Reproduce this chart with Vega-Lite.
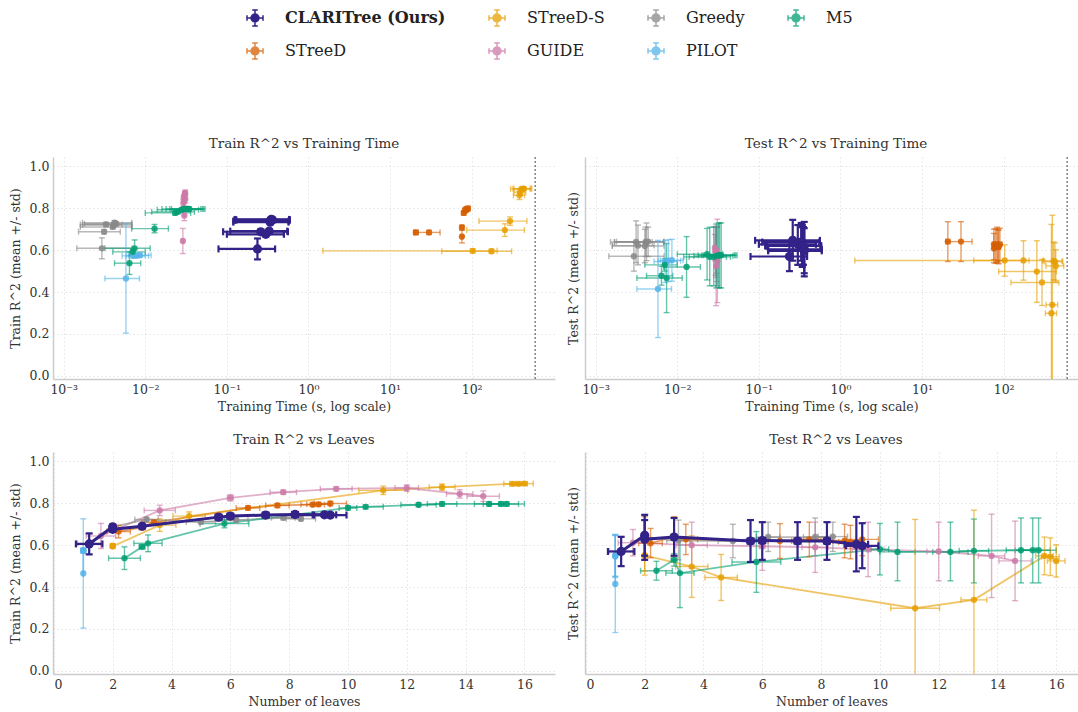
{
"$schema":"https://vega.github.io/schema/vega-lite/v6.json",
"padding":{"left":9,"top":9,"right":0,"bottom":3},
"datasets":{"d":[
{"method":"STreeD","time":20.7,"tlo":19.5,"thi":22,"leaves":2.0,"llo":1.95,"lhi":2.05,"train":0.685,"trlo":0.675,"trhi":0.695,"test":0.641,"telo":0.546,"tehi":0.736},
{"method":"STreeD","time":30,"tlo":20,"thi":41,"leaves":3.0,"llo":2.9,"lhi":3.1,"train":0.685,"trlo":0.675,"trhi":0.695,"test":0.641,"telo":0.546,"tehi":0.736},
{"method":"STreeD","time":76,"tlo":73,"thi":79,"leaves":2.2,"llo":1.8,"lhi":2.6,"train":0.665,"trlo":0.635,"trhi":0.695,"test":0.609,"telo":0.54,"tehi":0.68},
{"method":"STreeD","time":76,"tlo":73,"thi":79,"leaves":3.4,"llo":3.0,"lhi":3.8,"train":0.709,"trlo":0.699,"trhi":0.719,"test":0.628,"telo":0.555,"tehi":0.70},
{"method":"STreeD","time":80,"tlo":76,"thi":84,"leaves":6.6,"llo":6.2,"lhi":7.0,"train":0.778,"trlo":0.768,"trhi":0.788,"test":0.62,"telo":0.537,"tehi":0.703},
{"method":"STreeD","time":83,"tlo":79,"thi":87,"leaves":7.6,"llo":7.2,"lhi":8.0,"train":0.79,"trlo":0.78,"trhi":0.80,"test":0.628,"telo":0.545,"tehi":0.71},
{"method":"STreeD","time":85,"tlo":81,"thi":89,"leaves":8.8,"llo":8.4,"lhi":9.2,"train":0.794,"trlo":0.784,"trhi":0.804,"test":0.62,"telo":0.54,"tehi":0.70},
{"method":"STreeD","time":87,"tlo":83,"thi":91,"leaves":9.0,"llo":8.6,"lhi":9.4,"train":0.795,"trlo":0.785,"trhi":0.805,"test":0.615,"telo":0.535,"tehi":0.695},
{"method":"STreeD","time":90,"tlo":85,"thi":95,"leaves":9.4,"llo":8.85,"lhi":9.95,"train":0.799,"trlo":0.789,"trhi":0.809,"test":0.628,"telo":0.55,"tehi":0.705},
{"method":"STreeD-S","time":103,"tlo":1.5,"thi":205,"leaves":2.0,"llo":1.97,"lhi":2.03,"train":0.597,"trlo":0.587,"trhi":0.607,"test":0.551,"telo":0.476,"tehi":0.626},
{"method":"STreeD-S","time":175,"tlo":43,"thi":309,"leaves":2.0,"llo":1.97,"lhi":2.03,"train":0.595,"trlo":0.585,"trhi":0.605,"test":0.551,"telo":0.457,"tehi":0.645},
{"method":"STreeD-S","time":255,"tlo":87,"thi":443,"leaves":3.6,"llo":3.05,"lhi":4.15,"train":0.696,"trlo":0.666,"trhi":0.726,"test":0.498,"telo":0.351,"tehi":0.645},
{"method":"STreeD-S","time":295,"tlo":123,"thi":475,"leaves":4.6,"llo":4.05,"lhi":5.15,"train":0.739,"trlo":0.719,"trhi":0.759,"test":0.446,"telo":0.336,"tehi":0.556},
{"method":"STreeD-S","time":385,"tlo":325,"thi":445,"leaves":11.2,"llo":10.37,"lhi":12.03,"train":0.862,"trlo":0.842,"trhi":0.882,"test":0.299,"telo":-0.125,"tehi":0.723},
{"method":"STreeD-S","time":395,"tlo":330,"thi":460,"leaves":13.2,"llo":12.76,"lhi":13.64,"train":0.877,"trlo":0.862,"trhi":0.892,"test":0.339,"telo":-0.09,"tehi":0.767},
{"method":"STreeD-S","time":410,"tlo":300,"thi":520,"leaves":15.6,"llo":15.3,"lhi":15.9,"train":0.893,"trlo":0.885,"trhi":0.901,"test":0.549,"telo":0.459,"tehi":0.639},
{"method":"STreeD-S","time":425,"tlo":320,"thi":530,"leaves":15.8,"llo":15.5,"lhi":16.1,"train":0.893,"trlo":0.885,"trhi":0.901,"test":0.545,"telo":0.455,"tehi":0.635},
{"method":"STreeD-S","time":435,"tlo":330,"thi":545,"leaves":16.0,"llo":15.7,"lhi":16.3,"train":0.894,"trlo":0.886,"trhi":0.902,"test":0.525,"telo":0.448,"tehi":0.602},
{"method":"GUIDE","time":0.0289,"tlo":0.028,"thi":0.0298,"leaves":1.6,"llo":1.1,"lhi":2.1,"train":0.644,"trlo":0.584,"trhi":0.704,"test":0.612,"telo":0.549,"tehi":0.675},
{"method":"GUIDE","time":0.0301,"tlo":0.0291,"thi":0.0311,"leaves":3.6,"llo":3.07,"lhi":4.13,"train":0.766,"trlo":0.741,"trhi":0.791,"test":0.60,"telo":0.49,"tehi":0.71},
{"method":"GUIDE","time":0.0293,"tlo":0.0283,"thi":0.0303,"leaves":6.0,"llo":5.9,"lhi":6.1,"train":0.826,"trlo":0.811,"trhi":0.841,"test":0.595,"telo":0.48,"tehi":0.71},
{"method":"GUIDE","time":0.0297,"tlo":0.0287,"thi":0.0307,"leaves":7.8,"llo":7.35,"lhi":8.25,"train":0.853,"trlo":0.843,"trhi":0.863,"test":0.59,"telo":0.47,"tehi":0.71},
{"method":"GUIDE","time":0.0305,"tlo":0.0295,"thi":0.0315,"leaves":9.6,"llo":9.06,"lhi":10.14,"train":0.869,"trlo":0.859,"trhi":0.879,"test":0.58,"telo":0.45,"tehi":0.71},
{"method":"GUIDE","time":0.0308,"tlo":0.0298,"thi":0.0318,"leaves":12.0,"llo":11.6,"lhi":12.4,"train":0.873,"trlo":0.858,"trhi":0.888,"test":0.57,"telo":0.43,"tehi":0.71},
{"method":"GUIDE","time":0.031,"tlo":0.030,"thi":0.032,"leaves":13.8,"llo":13.35,"lhi":14.25,"train":0.845,"trlo":0.825,"trhi":0.865,"test":0.549,"telo":0.35,"tehi":0.748},
{"method":"GUIDE","time":0.030,"tlo":0.029,"thi":0.031,"leaves":14.6,"llo":14.05,"lhi":15.15,"train":0.834,"trlo":0.809,"trhi":0.859,"test":0.525,"telo":0.335,"tehi":0.715},
{"method":"Greedy","time":0.00294,"tlo":0.00145,"thi":0.0069,"leaves":1.2,"llo":0.8,"lhi":1.6,"train":0.609,"trlo":0.559,"trhi":0.659,"test":0.571,"telo":0.50,"tehi":0.64},
{"method":"Greedy","time":0.00313,"tlo":0.00152,"thi":0.00494,"leaves":2.0,"llo":1.95,"lhi":2.05,"train":0.688,"trlo":0.678,"trhi":0.698,"test":0.639,"telo":0.54,"tehi":0.74},
{"method":"Greedy","time":0.0033,"tlo":0.0016,"thi":0.0052,"leaves":3.15,"llo":2.75,"lhi":3.55,"train":0.723,"trlo":0.713,"trhi":0.733,"test":0.622,"telo":0.53,"tehi":0.72},
{"method":"Greedy","time":0.0040,"tlo":0.0016,"thi":0.0069,"leaves":5.0,"llo":4.5,"lhi":5.5,"train":0.711,"trlo":0.701,"trhi":0.721,"test":0.62,"telo":0.54,"tehi":0.70},
{"method":"Greedy","time":0.0041,"tlo":0.0017,"thi":0.0068,"leaves":6.2,"llo":5.8,"lhi":6.6,"train":0.72,"trlo":0.71,"trhi":0.73,"test":0.639,"telo":0.57,"tehi":0.71},
{"method":"Greedy","time":0.0042,"tlo":0.0017,"thi":0.0068,"leaves":7.8,"llo":7.4,"lhi":8.2,"train":0.731,"trlo":0.721,"trhi":0.741,"test":0.639,"telo":0.55,"tehi":0.73},
{"method":"Greedy","time":0.0044,"tlo":0.0018,"thi":0.0069,"leaves":8.4,"llo":7.9,"lhi":8.9,"train":0.726,"trlo":0.716,"trhi":0.736,"test":0.641,"telo":0.57,"tehi":0.71},
{"method":"PILOT","time":0.0058,"tlo":0.0032,"thi":0.0085,"leaves":1.0,"llo":1.0,"lhi":1.0,"train":0.465,"trlo":0.204,"trhi":0.726,"test":0.415,"telo":0.183,"tehi":0.647},
{"method":"PILOT","time":0.0071,"tlo":0.0052,"thi":0.0100,"leaves":1.0,"llo":1.0,"lhi":1.0,"train":0.573,"trlo":0.563,"trhi":0.583,"test":0.546,"telo":0.446,"tehi":0.646},
{"method":"PILOT","time":0.0078,"tlo":0.0058,"thi":0.011,"leaves":1.0,"llo":1.0,"lhi":1.0,"train":0.574,"trlo":0.564,"trhi":0.584,"test":0.55,"telo":0.45,"tehi":0.65},
{"method":"PILOT","time":0.0086,"tlo":0.0062,"thi":0.0118,"leaves":1.0,"llo":1.0,"lhi":1.0,"train":0.576,"trlo":0.566,"trhi":0.586,"test":0.552,"telo":0.452,"tehi":0.652},
{"method":"M5","time":0.0064,"tlo":0.0042,"thi":0.0088,"leaves":2.4,"llo":1.86,"lhi":2.94,"train":0.538,"trlo":0.484,"trhi":0.592,"test":0.478,"telo":0.433,"tehi":0.523},
{"method":"M5","time":0.0070,"tlo":0.0040,"thi":0.0100,"leaves":3.0,"llo":2.9,"lhi":3.1,"train":0.592,"trlo":0.582,"trhi":0.602,"test":0.53,"telo":0.50,"tehi":0.56},
{"method":"M5","time":0.0074,"tlo":0.0032,"thi":0.0115,"leaves":3.2,"llo":2.72,"lhi":3.68,"train":0.609,"trlo":0.569,"trhi":0.649,"test":0.467,"telo":0.302,"tehi":0.632},
{"method":"M5","time":0.013,"tlo":0.0068,"thi":0.0192,"leaves":5.8,"llo":4.97,"lhi":6.63,"train":0.703,"trlo":0.683,"trhi":0.723,"test":0.52,"telo":0.375,"tehi":0.665},
{"method":"M5","time":0.0232,"tlo":0.010,"thi":0.036,"leaves":10.0,"llo":9.7,"lhi":10.3,"train":0.778,"trlo":0.768,"trhi":0.788,"test":0.581,"telo":0.458,"tehi":0.704},
{"method":"M5","time":0.025,"tlo":0.012,"thi":0.040,"leaves":10.6,"llo":10.0,"lhi":11.2,"train":0.783,"trlo":0.773,"trhi":0.793,"test":0.568,"telo":0.43,"tehi":0.71},
{"method":"M5","time":0.028,"tlo":0.014,"thi":0.045,"leaves":12.4,"llo":11.8,"lhi":13.0,"train":0.793,"trlo":0.783,"trhi":0.803,"test":0.568,"telo":0.43,"tehi":0.71},
{"method":"M5","time":0.030,"tlo":0.016,"thi":0.048,"leaves":13.2,"llo":12.7,"lhi":13.7,"train":0.797,"trlo":0.787,"trhi":0.807,"test":0.573,"telo":0.42,"tehi":0.725},
{"method":"M5","time":0.032,"tlo":0.018,"thi":0.050,"leaves":14.8,"llo":14.3,"lhi":15.3,"train":0.797,"trlo":0.787,"trhi":0.807,"test":0.576,"telo":0.42,"tehi":0.73},
{"method":"M5","time":0.033,"tlo":0.020,"thi":0.052,"leaves":15.2,"llo":14.6,"lhi":15.8,"train":0.797,"trlo":0.787,"trhi":0.807,"test":0.576,"telo":0.42,"tehi":0.73},
{"method":"M5","time":0.0345,"tlo":0.021,"thi":0.054,"leaves":15.4,"llo":14.8,"lhi":16.0,"train":0.797,"trlo":0.787,"trhi":0.807,"test":0.576,"telo":0.42,"tehi":0.73},
{"method":"CLARITree (Ours)","time":0.237,"tlo":0.079,"thi":0.39,"leaves":1.2,"llo":0.75,"lhi":1.65,"train":0.606,"trlo":0.556,"trhi":0.656,"test":0.57,"telo":0.50,"tehi":0.64},
{"method":"CLARITree (Ours)","time":0.26,"tlo":0.09,"thi":0.56,"leaves":2.0,"llo":1.95,"lhi":2.05,"train":0.688,"trlo":0.678,"trhi":0.698,"test":0.647,"telo":0.55,"tehi":0.745},
{"method":"CLARITree (Ours)","time":0.30,"tlo":0.10,"thi":0.50,"leaves":2.0,"llo":1.95,"lhi":2.05,"train":0.676,"trlo":0.666,"trhi":0.686,"test":0.628,"telo":0.53,"tehi":0.72},
{"method":"CLARITree (Ours)","time":0.33,"tlo":0.11,"thi":0.55,"leaves":3.0,"llo":2.95,"lhi":3.05,"train":0.691,"trlo":0.681,"trhi":0.701,"test":0.639,"telo":0.55,"tehi":0.73},
{"method":"CLARITree (Ours)","time":0.34,"tlo":0.12,"thi":0.57,"leaves":5.6,"llo":5.5,"lhi":5.7,"train":0.734,"trlo":0.726,"trhi":0.742,"test":0.62,"telo":0.52,"tehi":0.72},
{"method":"CLARITree (Ours)","time":0.34,"tlo":0.12,"thi":0.57,"leaves":6.0,"llo":5.9,"lhi":6.1,"train":0.739,"trlo":0.731,"trhi":0.747,"test":0.622,"telo":0.53,"tehi":0.71},
{"method":"CLARITree (Ours)","time":0.35,"tlo":0.125,"thi":0.58,"leaves":7.2,"llo":7.1,"lhi":7.3,"train":0.744,"trlo":0.736,"trhi":0.752,"test":0.62,"telo":0.53,"tehi":0.71},
{"method":"CLARITree (Ours)","time":0.35,"tlo":0.125,"thi":0.58,"leaves":8.2,"llo":8.1,"lhi":8.3,"train":0.747,"trlo":0.739,"trhi":0.755,"test":0.62,"telo":0.53,"tehi":0.71},
{"method":"CLARITree (Ours)","time":0.36,"tlo":0.13,"thi":0.59,"leaves":9.2,"llo":8.8,"lhi":9.6,"train":0.745,"trlo":0.737,"trhi":0.753,"test":0.604,"telo":0.475,"tehi":0.735},
{"method":"CLARITree (Ours)","time":0.36,"tlo":0.13,"thi":0.59,"leaves":9.4,"llo":8.85,"lhi":9.95,"train":0.744,"trlo":0.736,"trhi":0.752,"test":0.597,"telo":0.49,"tehi":0.705}
]},
"data":{"name":"d"},
"columns":2,
"spacing":{"row":73,"column":30},
"bounds":"flush",
"align":"each",
"concat":[
{"width":502,"height":222,
 "title":{"text":"Train R^2 vs Training Time","font":"DejaVu Serif, Liberation Serif, serif","fontSize":13.5,"fontWeight":"normal","color":"#333333","offset":6},
 "layer":[
  {"transform":[{"filter":"datum.method !== 'CLARITree (Ours)'"}],"layer":[
   {"mark":{"type":"errorbar","orient":"horizontal","ticks":true,"size":6,"thickness":1.4,"opacity":0.6,"clip":true},
    "encoding":{"x":{"field":"tlo","type":"quantitative","title":"Training Time (s, log scale)","scale":{"type":"log","domain":[0.00074,1050],"nice":false},"axis":{"values":[0.001,0.01,0.1,1,10,100],"labelExpr":"datum.value < 0.005 ? '10⁻³' : datum.value < 0.05 ? '10⁻²' : datum.value < 0.5 ? '10⁻¹' : datum.value < 5 ? '10⁰' : datum.value < 50 ? '10¹' : '10²'","titlePadding":5,"labelFont":"DejaVu Serif, Liberation Serif, serif","titleFont":"DejaVu Serif, Liberation Serif, serif","labelFontSize":12.5,"titleFontSize":12.5}},"x2":{"field":"thi"},
     "y":{"field":"train","type":"quantitative","title":"Train R^2 (mean +/- std)","scale":{"domain":[-0.015,1.045],"nice":false,"zero":false},"axis":{"values":[0,0.2,0.4,0.6,0.8,1],"format":".1f","titlePadding":7,"labelFont":"DejaVu Serif, Liberation Serif, serif","titleFont":"DejaVu Serif, Liberation Serif, serif","labelFontSize":12.5,"titleFontSize":12.5}},
     "color":{"field":"method","type":"nominal","scale":{"domain":["CLARITree (Ours)","STreeD-S","Greedy","M5","STreeD","GUIDE","PILOT"],"range":["#332288","#E69F00","#888888","#009E73","#D55E00","#CC79A7","#56B4E9"]},
      "legend":{"orient":"none","legendX":193,"legendY":-148,"direction":"horizontal","columns":4,"title":null,"labelFontSize":16,"labelFont":"DejaVu Serif, Liberation Serif, serif","labelColor":"#222222","labelLimit":400,"labelOffset":21,"columnPadding":40,"rowPadding":11,"symbolSize":256,"symbolStrokeWidth":1.5,"symbolOpacity":0.8,"symbolType":"M-1,0L1,0M0,-1L0,1M-1,-0.35L-1,0.35M1,-0.35L1,0.35M-0.35,-1L0.35,-1M-0.35,1L0.35,1M0.5,0A0.5,0.5,0,1,1,-0.5,0A0.5,0.5,0,1,1,0.5,0Z",
       "labelFontWeight":{"expr":"datum.label === 'CLARITree (Ours)' ? 'bold' : 'normal'"},
       "encode":{"labels":{"update":{"fontWeight":{"signal":"datum.label === 'CLARITree (Ours)' ? 'bold' : 'normal'"}}},"symbols":{"update":{"fill":{"scale":"color","field":"value"},"stroke":{"scale":"color","field":"value"},"opacity":{"signal":"datum.value === 'CLARITree (Ours)' ? 1 : 0.75"}}}}}}}},
   {"mark":{"type":"errorbar","orient":"vertical","ticks":true,"size":6,"thickness":1.4,"opacity":0.6,"clip":true},
    "encoding":{"x":{"field":"time","type":"quantitative","title":"Training Time (s, log scale)","scale":{"type":"log","domain":[0.00074,1050],"nice":false}},
     "y":{"field":"trlo","type":"quantitative","title":"Train R^2 (mean +/- std)","scale":{"domain":[-0.015,1.045],"nice":false,"zero":false}},"y2":{"field":"trhi"},
     "color":{"field":"method","type":"nominal","scale":{"domain":["CLARITree (Ours)","STreeD-S","Greedy","M5","STreeD","GUIDE","PILOT"],"range":["#332288","#E69F00","#888888","#009E73","#D55E00","#CC79A7","#56B4E9"]}}}},
   {"mark":{"type":"point","filled":true,"size":40,"opacity":0.85,"clip":true},
    "encoding":{"x":{"field":"time","type":"quantitative","title":"Training Time (s, log scale)","scale":{"type":"log","domain":[0.00074,1050],"nice":false}},
     "y":{"field":"train","type":"quantitative","title":"Train R^2 (mean +/- std)","scale":{"domain":[-0.015,1.045],"nice":false,"zero":false}},
     "color":{"field":"method","type":"nominal","scale":{"domain":["CLARITree (Ours)","STreeD-S","Greedy","M5","STreeD","GUIDE","PILOT"],"range":["#332288","#E69F00","#888888","#009E73","#D55E00","#CC79A7","#56B4E9"]}}}}
  ]},
  {"transform":[{"filter":"datum.method === 'CLARITree (Ours)'"}],"layer":[
   {"mark":{"type":"errorbar","orient":"horizontal","ticks":true,"size":7,"thickness":2.2,"opacity":1,"clip":true},
    "encoding":{"x":{"field":"tlo","type":"quantitative","title":"Training Time (s, log scale)","scale":{"type":"log","domain":[0.00074,1050],"nice":false}},"x2":{"field":"thi"},
     "y":{"field":"train","type":"quantitative","title":"Train R^2 (mean +/- std)","scale":{"domain":[-0.015,1.045],"nice":false,"zero":false}},
     "color":{"field":"method","type":"nominal","scale":{"domain":["CLARITree (Ours)","STreeD-S","Greedy","M5","STreeD","GUIDE","PILOT"],"range":["#332288","#E69F00","#888888","#009E73","#D55E00","#CC79A7","#56B4E9"]}}}},
   {"mark":{"type":"errorbar","orient":"vertical","ticks":true,"size":7,"thickness":2.2,"opacity":1,"clip":true},
    "encoding":{"x":{"field":"time","type":"quantitative","title":"Training Time (s, log scale)","scale":{"type":"log","domain":[0.00074,1050],"nice":false}},
     "y":{"field":"trlo","type":"quantitative","title":"Train R^2 (mean +/- std)","scale":{"domain":[-0.015,1.045],"nice":false,"zero":false}},"y2":{"field":"trhi"},
     "color":{"field":"method","type":"nominal","scale":{"domain":["CLARITree (Ours)","STreeD-S","Greedy","M5","STreeD","GUIDE","PILOT"],"range":["#332288","#E69F00","#888888","#009E73","#D55E00","#CC79A7","#56B4E9"]}}}},
   {"mark":{"type":"point","filled":true,"size":85,"opacity":1,"clip":true},
    "encoding":{"x":{"field":"time","type":"quantitative","title":"Training Time (s, log scale)","scale":{"type":"log","domain":[0.00074,1050],"nice":false}},
     "y":{"field":"train","type":"quantitative","title":"Train R^2 (mean +/- std)","scale":{"domain":[-0.015,1.045],"nice":false,"zero":false}},
     "color":{"field":"method","type":"nominal","scale":{"domain":["CLARITree (Ours)","STreeD-S","Greedy","M5","STreeD","GUIDE","PILOT"],"range":["#332288","#E69F00","#888888","#009E73","#D55E00","#CC79A7","#56B4E9"]}}}}
  ]},
  {"data":{"values":[{"limit":600}]},"mark":{"type":"rule","color":"#666666","strokeDash":[2,2],"strokeWidth":1.2},
   "encoding":{"x":{"field":"limit","type":"quantitative","title":"Training Time (s, log scale)","scale":{"type":"log","domain":[0.00074,1050],"nice":false}}}}
 ]},
{"width":493,"height":222,
 "title":{"text":"Test R^2 vs Training Time","dx":4.5,"font":"DejaVu Serif, Liberation Serif, serif","fontSize":13.5,"fontWeight":"normal","color":"#333333","offset":6},
 "layer":[
  {"transform":[{"filter":"datum.method !== 'CLARITree (Ours)'"}],"layer":[
   {"mark":{"type":"errorbar","orient":"horizontal","ticks":true,"size":6,"thickness":1.4,"opacity":0.6,"clip":true},
    "encoding":{"x":{"field":"tlo","type":"quantitative","title":"Training Time (s, log scale)","scale":{"type":"log","domain":[0.00074,815],"nice":false},"axis":{"values":[0.001,0.01,0.1,1,10,100],"labelExpr":"datum.value < 0.005 ? '10⁻³' : datum.value < 0.05 ? '10⁻²' : datum.value < 0.5 ? '10⁻¹' : datum.value < 5 ? '10⁰' : datum.value < 50 ? '10¹' : '10²'","titlePadding":5,"labelFont":"DejaVu Serif, Liberation Serif, serif","titleFont":"DejaVu Serif, Liberation Serif, serif","labelFontSize":12.5,"titleFontSize":12.5}},"x2":{"field":"thi"},
     "y":{"field":"test","type":"quantitative","title":"Test R^2 (mean +/- std)","scale":{"domain":[-0.015,1.045],"nice":false,"zero":false},"axis":{"values":[0,0.2,0.4,0.6,0.8,1],"labels":false,"titlePadding":5,"titleFont":"DejaVu Serif, Liberation Serif, serif","titleFontSize":12.5}},
     "color":{"field":"method","type":"nominal","scale":{"domain":["CLARITree (Ours)","STreeD-S","Greedy","M5","STreeD","GUIDE","PILOT"],"range":["#332288","#E69F00","#888888","#009E73","#D55E00","#CC79A7","#56B4E9"]}}}},
   {"mark":{"type":"errorbar","orient":"vertical","ticks":true,"size":6,"thickness":1.4,"opacity":0.6,"clip":true},
    "encoding":{"x":{"field":"time","type":"quantitative","title":"Training Time (s, log scale)","scale":{"type":"log","domain":[0.00074,815],"nice":false}},
     "y":{"field":"telo","type":"quantitative","title":"Test R^2 (mean +/- std)","scale":{"domain":[-0.015,1.045],"nice":false,"zero":false}},"y2":{"field":"tehi"},
     "color":{"field":"method","type":"nominal","scale":{"domain":["CLARITree (Ours)","STreeD-S","Greedy","M5","STreeD","GUIDE","PILOT"],"range":["#332288","#E69F00","#888888","#009E73","#D55E00","#CC79A7","#56B4E9"]}}}},
   {"mark":{"type":"point","filled":true,"size":40,"opacity":0.85,"clip":true},
    "encoding":{"x":{"field":"time","type":"quantitative","title":"Training Time (s, log scale)","scale":{"type":"log","domain":[0.00074,815],"nice":false}},
     "y":{"field":"test","type":"quantitative","title":"Test R^2 (mean +/- std)","scale":{"domain":[-0.015,1.045],"nice":false,"zero":false}},
     "color":{"field":"method","type":"nominal","scale":{"domain":["CLARITree (Ours)","STreeD-S","Greedy","M5","STreeD","GUIDE","PILOT"],"range":["#332288","#E69F00","#888888","#009E73","#D55E00","#CC79A7","#56B4E9"]}}}}
  ]},
  {"transform":[{"filter":"datum.method === 'CLARITree (Ours)'"}],"layer":[
   {"mark":{"type":"errorbar","orient":"horizontal","ticks":true,"size":7,"thickness":2.2,"opacity":1,"clip":true},
    "encoding":{"x":{"field":"tlo","type":"quantitative","title":"Training Time (s, log scale)","scale":{"type":"log","domain":[0.00074,815],"nice":false}},"x2":{"field":"thi"},
     "y":{"field":"test","type":"quantitative","title":"Test R^2 (mean +/- std)","scale":{"domain":[-0.015,1.045],"nice":false,"zero":false}},
     "color":{"field":"method","type":"nominal","scale":{"domain":["CLARITree (Ours)","STreeD-S","Greedy","M5","STreeD","GUIDE","PILOT"],"range":["#332288","#E69F00","#888888","#009E73","#D55E00","#CC79A7","#56B4E9"]}}}},
   {"mark":{"type":"errorbar","orient":"vertical","ticks":true,"size":7,"thickness":2.2,"opacity":1,"clip":true},
    "encoding":{"x":{"field":"time","type":"quantitative","title":"Training Time (s, log scale)","scale":{"type":"log","domain":[0.00074,815],"nice":false}},
     "y":{"field":"telo","type":"quantitative","title":"Test R^2 (mean +/- std)","scale":{"domain":[-0.015,1.045],"nice":false,"zero":false}},"y2":{"field":"tehi"},
     "color":{"field":"method","type":"nominal","scale":{"domain":["CLARITree (Ours)","STreeD-S","Greedy","M5","STreeD","GUIDE","PILOT"],"range":["#332288","#E69F00","#888888","#009E73","#D55E00","#CC79A7","#56B4E9"]}}}},
   {"mark":{"type":"point","filled":true,"size":85,"opacity":1,"clip":true},
    "encoding":{"x":{"field":"time","type":"quantitative","title":"Training Time (s, log scale)","scale":{"type":"log","domain":[0.00074,815],"nice":false}},
     "y":{"field":"test","type":"quantitative","title":"Test R^2 (mean +/- std)","scale":{"domain":[-0.015,1.045],"nice":false,"zero":false}},
     "color":{"field":"method","type":"nominal","scale":{"domain":["CLARITree (Ours)","STreeD-S","Greedy","M5","STreeD","GUIDE","PILOT"],"range":["#332288","#E69F00","#888888","#009E73","#D55E00","#CC79A7","#56B4E9"]}}}}
  ]},
  {"data":{"values":[{"limit":600}]},"mark":{"type":"rule","color":"#666666","strokeDash":[2,2],"strokeWidth":1.2},
   "encoding":{"x":{"field":"limit","type":"quantitative","title":"Training Time (s, log scale)","scale":{"type":"log","domain":[0.00074,815],"nice":false}}}}
 ]},
{"width":502,"height":222,
 "title":{"text":"Train R^2 vs Leaves","font":"DejaVu Serif, Liberation Serif, serif","fontSize":13.5,"fontWeight":"normal","color":"#333333","offset":6},
 "layer":[
  {"transform":[{"filter":"datum.method !== 'CLARITree (Ours)'"}],"layer":[
   {"mark":{"type":"line","strokeWidth":1.8,"opacity":0.6,"clip":true},
    "encoding":{"x":{"field":"leaves","type":"quantitative","title":"Number of leaves","scale":{"domain":[-0.03,17.04],"nice":false,"zero":false},"axis":{"values":[0,2,4,6,8,10,12,14,16],"format":"d","titlePadding":5,"labelFont":"DejaVu Serif, Liberation Serif, serif","titleFont":"DejaVu Serif, Liberation Serif, serif","labelFontSize":12.5,"titleFontSize":12.5}},
     "y":{"field":"train","type":"quantitative","title":"Train R^2 (mean +/- std)","scale":{"domain":[-0.015,1.045],"nice":false,"zero":false},"axis":{"values":[0,0.2,0.4,0.6,0.8,1],"format":".1f","titlePadding":7,"labelFont":"DejaVu Serif, Liberation Serif, serif","titleFont":"DejaVu Serif, Liberation Serif, serif","labelFontSize":12.5,"titleFontSize":12.5}},
     "color":{"field":"method","type":"nominal","scale":{"domain":["CLARITree (Ours)","STreeD-S","Greedy","M5","STreeD","GUIDE","PILOT"],"range":["#332288","#E69F00","#888888","#009E73","#D55E00","#CC79A7","#56B4E9"]}}}},
   {"mark":{"type":"errorbar","orient":"horizontal","ticks":true,"size":6,"thickness":1.4,"opacity":0.6,"clip":true},
    "encoding":{"x":{"field":"llo","type":"quantitative","title":"Number of leaves","scale":{"domain":[-0.03,17.04],"nice":false,"zero":false}},"x2":{"field":"lhi"},
     "y":{"field":"train","type":"quantitative","title":"Train R^2 (mean +/- std)","scale":{"domain":[-0.015,1.045],"nice":false,"zero":false}},
     "color":{"field":"method","type":"nominal","scale":{"domain":["CLARITree (Ours)","STreeD-S","Greedy","M5","STreeD","GUIDE","PILOT"],"range":["#332288","#E69F00","#888888","#009E73","#D55E00","#CC79A7","#56B4E9"]}}}},
   {"mark":{"type":"errorbar","orient":"vertical","ticks":true,"size":6,"thickness":1.4,"opacity":0.6,"clip":true},
    "encoding":{"x":{"field":"leaves","type":"quantitative","title":"Number of leaves","scale":{"domain":[-0.03,17.04],"nice":false,"zero":false}},
     "y":{"field":"trlo","type":"quantitative","title":"Train R^2 (mean +/- std)","scale":{"domain":[-0.015,1.045],"nice":false,"zero":false}},"y2":{"field":"trhi"},
     "color":{"field":"method","type":"nominal","scale":{"domain":["CLARITree (Ours)","STreeD-S","Greedy","M5","STreeD","GUIDE","PILOT"],"range":["#332288","#E69F00","#888888","#009E73","#D55E00","#CC79A7","#56B4E9"]}}}},
   {"mark":{"type":"point","filled":true,"size":40,"opacity":0.85,"clip":true},
    "encoding":{"x":{"field":"leaves","type":"quantitative","title":"Number of leaves","scale":{"domain":[-0.03,17.04],"nice":false,"zero":false}},
     "y":{"field":"train","type":"quantitative","title":"Train R^2 (mean +/- std)","scale":{"domain":[-0.015,1.045],"nice":false,"zero":false}},
     "color":{"field":"method","type":"nominal","scale":{"domain":["CLARITree (Ours)","STreeD-S","Greedy","M5","STreeD","GUIDE","PILOT"],"range":["#332288","#E69F00","#888888","#009E73","#D55E00","#CC79A7","#56B4E9"]}}}}
  ]},
  {"transform":[{"filter":"datum.method === 'CLARITree (Ours)'"}],"layer":[
   {"mark":{"type":"line","strokeWidth":3,"opacity":1,"clip":true},
    "encoding":{"x":{"field":"leaves","type":"quantitative","title":"Number of leaves","scale":{"domain":[-0.03,17.04],"nice":false,"zero":false}},
     "y":{"field":"train","type":"quantitative","title":"Train R^2 (mean +/- std)","scale":{"domain":[-0.015,1.045],"nice":false,"zero":false}},
     "color":{"field":"method","type":"nominal","scale":{"domain":["CLARITree (Ours)","STreeD-S","Greedy","M5","STreeD","GUIDE","PILOT"],"range":["#332288","#E69F00","#888888","#009E73","#D55E00","#CC79A7","#56B4E9"]}}}},
   {"mark":{"type":"errorbar","orient":"horizontal","ticks":true,"size":7,"thickness":2.2,"opacity":1,"clip":true},
    "encoding":{"x":{"field":"llo","type":"quantitative","title":"Number of leaves","scale":{"domain":[-0.03,17.04],"nice":false,"zero":false}},"x2":{"field":"lhi"},
     "y":{"field":"train","type":"quantitative","title":"Train R^2 (mean +/- std)","scale":{"domain":[-0.015,1.045],"nice":false,"zero":false}},
     "color":{"field":"method","type":"nominal","scale":{"domain":["CLARITree (Ours)","STreeD-S","Greedy","M5","STreeD","GUIDE","PILOT"],"range":["#332288","#E69F00","#888888","#009E73","#D55E00","#CC79A7","#56B4E9"]}}}},
   {"mark":{"type":"errorbar","orient":"vertical","ticks":true,"size":7,"thickness":2.2,"opacity":1,"clip":true},
    "encoding":{"x":{"field":"leaves","type":"quantitative","title":"Number of leaves","scale":{"domain":[-0.03,17.04],"nice":false,"zero":false}},
     "y":{"field":"trlo","type":"quantitative","title":"Train R^2 (mean +/- std)","scale":{"domain":[-0.015,1.045],"nice":false,"zero":false}},"y2":{"field":"trhi"},
     "color":{"field":"method","type":"nominal","scale":{"domain":["CLARITree (Ours)","STreeD-S","Greedy","M5","STreeD","GUIDE","PILOT"],"range":["#332288","#E69F00","#888888","#009E73","#D55E00","#CC79A7","#56B4E9"]}}}},
   {"mark":{"type":"point","filled":true,"size":85,"opacity":1,"clip":true},
    "encoding":{"x":{"field":"leaves","type":"quantitative","title":"Number of leaves","scale":{"domain":[-0.03,17.04],"nice":false,"zero":false}},
     "y":{"field":"train","type":"quantitative","title":"Train R^2 (mean +/- std)","scale":{"domain":[-0.015,1.045],"nice":false,"zero":false}},
     "color":{"field":"method","type":"nominal","scale":{"domain":["CLARITree (Ours)","STreeD-S","Greedy","M5","STreeD","GUIDE","PILOT"],"range":["#332288","#E69F00","#888888","#009E73","#D55E00","#CC79A7","#56B4E9"]}}}}
  ]}
 ]},
{"width":493,"height":222,
 "title":{"text":"Test R^2 vs Leaves","dx":4.5,"font":"DejaVu Serif, Liberation Serif, serif","fontSize":13.5,"fontWeight":"normal","color":"#333333","offset":6},
 "layer":[
  {"transform":[{"filter":"datum.method !== 'CLARITree (Ours)'"}],"layer":[
   {"mark":{"type":"line","strokeWidth":1.8,"opacity":0.6,"clip":true},
    "encoding":{"x":{"field":"leaves","type":"quantitative","title":"Number of leaves","scale":{"domain":[-0.03,16.74],"nice":false,"zero":false},"axis":{"values":[0,2,4,6,8,10,12,14,16],"format":"d","titlePadding":5,"labelFont":"DejaVu Serif, Liberation Serif, serif","titleFont":"DejaVu Serif, Liberation Serif, serif","labelFontSize":12.5,"titleFontSize":12.5}},
     "y":{"field":"test","type":"quantitative","title":"Test R^2 (mean +/- std)","scale":{"domain":[-0.015,1.045],"nice":false,"zero":false},"axis":{"values":[0,0.2,0.4,0.6,0.8,1],"labels":false,"titlePadding":5,"titleFont":"DejaVu Serif, Liberation Serif, serif","titleFontSize":12.5}},
     "color":{"field":"method","type":"nominal","scale":{"domain":["CLARITree (Ours)","STreeD-S","Greedy","M5","STreeD","GUIDE","PILOT"],"range":["#332288","#E69F00","#888888","#009E73","#D55E00","#CC79A7","#56B4E9"]}}}},
   {"mark":{"type":"errorbar","orient":"horizontal","ticks":true,"size":6,"thickness":1.4,"opacity":0.6,"clip":true},
    "encoding":{"x":{"field":"llo","type":"quantitative","title":"Number of leaves","scale":{"domain":[-0.03,16.74],"nice":false,"zero":false}},"x2":{"field":"lhi"},
     "y":{"field":"test","type":"quantitative","title":"Test R^2 (mean +/- std)","scale":{"domain":[-0.015,1.045],"nice":false,"zero":false}},
     "color":{"field":"method","type":"nominal","scale":{"domain":["CLARITree (Ours)","STreeD-S","Greedy","M5","STreeD","GUIDE","PILOT"],"range":["#332288","#E69F00","#888888","#009E73","#D55E00","#CC79A7","#56B4E9"]}}}},
   {"mark":{"type":"errorbar","orient":"vertical","ticks":true,"size":6,"thickness":1.4,"opacity":0.6,"clip":true},
    "encoding":{"x":{"field":"leaves","type":"quantitative","title":"Number of leaves","scale":{"domain":[-0.03,16.74],"nice":false,"zero":false}},
     "y":{"field":"telo","type":"quantitative","title":"Test R^2 (mean +/- std)","scale":{"domain":[-0.015,1.045],"nice":false,"zero":false}},"y2":{"field":"tehi"},
     "color":{"field":"method","type":"nominal","scale":{"domain":["CLARITree (Ours)","STreeD-S","Greedy","M5","STreeD","GUIDE","PILOT"],"range":["#332288","#E69F00","#888888","#009E73","#D55E00","#CC79A7","#56B4E9"]}}}},
   {"mark":{"type":"point","filled":true,"size":40,"opacity":0.85,"clip":true},
    "encoding":{"x":{"field":"leaves","type":"quantitative","title":"Number of leaves","scale":{"domain":[-0.03,16.74],"nice":false,"zero":false}},
     "y":{"field":"test","type":"quantitative","title":"Test R^2 (mean +/- std)","scale":{"domain":[-0.015,1.045],"nice":false,"zero":false}},
     "color":{"field":"method","type":"nominal","scale":{"domain":["CLARITree (Ours)","STreeD-S","Greedy","M5","STreeD","GUIDE","PILOT"],"range":["#332288","#E69F00","#888888","#009E73","#D55E00","#CC79A7","#56B4E9"]}}}}
  ]},
  {"transform":[{"filter":"datum.method === 'CLARITree (Ours)'"}],"layer":[
   {"mark":{"type":"line","strokeWidth":3,"opacity":1,"clip":true},
    "encoding":{"x":{"field":"leaves","type":"quantitative","title":"Number of leaves","scale":{"domain":[-0.03,16.74],"nice":false,"zero":false}},
     "y":{"field":"test","type":"quantitative","title":"Test R^2 (mean +/- std)","scale":{"domain":[-0.015,1.045],"nice":false,"zero":false}},
     "color":{"field":"method","type":"nominal","scale":{"domain":["CLARITree (Ours)","STreeD-S","Greedy","M5","STreeD","GUIDE","PILOT"],"range":["#332288","#E69F00","#888888","#009E73","#D55E00","#CC79A7","#56B4E9"]}}}},
   {"mark":{"type":"errorbar","orient":"horizontal","ticks":true,"size":7,"thickness":2.2,"opacity":1,"clip":true},
    "encoding":{"x":{"field":"llo","type":"quantitative","title":"Number of leaves","scale":{"domain":[-0.03,16.74],"nice":false,"zero":false}},"x2":{"field":"lhi"},
     "y":{"field":"test","type":"quantitative","title":"Test R^2 (mean +/- std)","scale":{"domain":[-0.015,1.045],"nice":false,"zero":false}},
     "color":{"field":"method","type":"nominal","scale":{"domain":["CLARITree (Ours)","STreeD-S","Greedy","M5","STreeD","GUIDE","PILOT"],"range":["#332288","#E69F00","#888888","#009E73","#D55E00","#CC79A7","#56B4E9"]}}}},
   {"mark":{"type":"errorbar","orient":"vertical","ticks":true,"size":7,"thickness":2.2,"opacity":1,"clip":true},
    "encoding":{"x":{"field":"leaves","type":"quantitative","title":"Number of leaves","scale":{"domain":[-0.03,16.74],"nice":false,"zero":false}},
     "y":{"field":"telo","type":"quantitative","title":"Test R^2 (mean +/- std)","scale":{"domain":[-0.015,1.045],"nice":false,"zero":false}},"y2":{"field":"tehi"},
     "color":{"field":"method","type":"nominal","scale":{"domain":["CLARITree (Ours)","STreeD-S","Greedy","M5","STreeD","GUIDE","PILOT"],"range":["#332288","#E69F00","#888888","#009E73","#D55E00","#CC79A7","#56B4E9"]}}}},
   {"mark":{"type":"point","filled":true,"size":85,"opacity":1,"clip":true},
    "encoding":{"x":{"field":"leaves","type":"quantitative","title":"Number of leaves","scale":{"domain":[-0.03,16.74],"nice":false,"zero":false}},
     "y":{"field":"test","type":"quantitative","title":"Test R^2 (mean +/- std)","scale":{"domain":[-0.015,1.045],"nice":false,"zero":false}},
     "color":{"field":"method","type":"nominal","scale":{"domain":["CLARITree (Ours)","STreeD-S","Greedy","M5","STreeD","GUIDE","PILOT"],"range":["#332288","#E69F00","#888888","#009E73","#D55E00","#CC79A7","#56B4E9"]}}}}
  ]}
 ]}
],
"resolve":{"scale":{"x":"independent","y":"independent"}},
"config":{
 "font":"DejaVu Serif, Liberation Serif, serif",
 "view":{"stroke":null},
 "axis":{"labelFont":"DejaVu Serif, Liberation Serif, serif","titleFont":"DejaVu Serif, Liberation Serif, serif","labelFontSize":12.5,"titleFontSize":12.5,"titleFontWeight":"normal","labelColor":"#333333","titleColor":"#333333","domainColor":"#cccccc","domainWidth":1.5,"ticks":false,"tickSize":0,"grid":true,"gridColor":"#dddddd","gridDash":[1.5,2.5],"gridWidth":0.8,"labelPadding":4},
 "legend":{"labelFont":"DejaVu Serif, Liberation Serif, serif"},
 "title":{"font":"DejaVu Serif, Liberation Serif, serif","fontSize":13.5,"fontWeight":"normal","color":"#333333","offset":6}
}
}
